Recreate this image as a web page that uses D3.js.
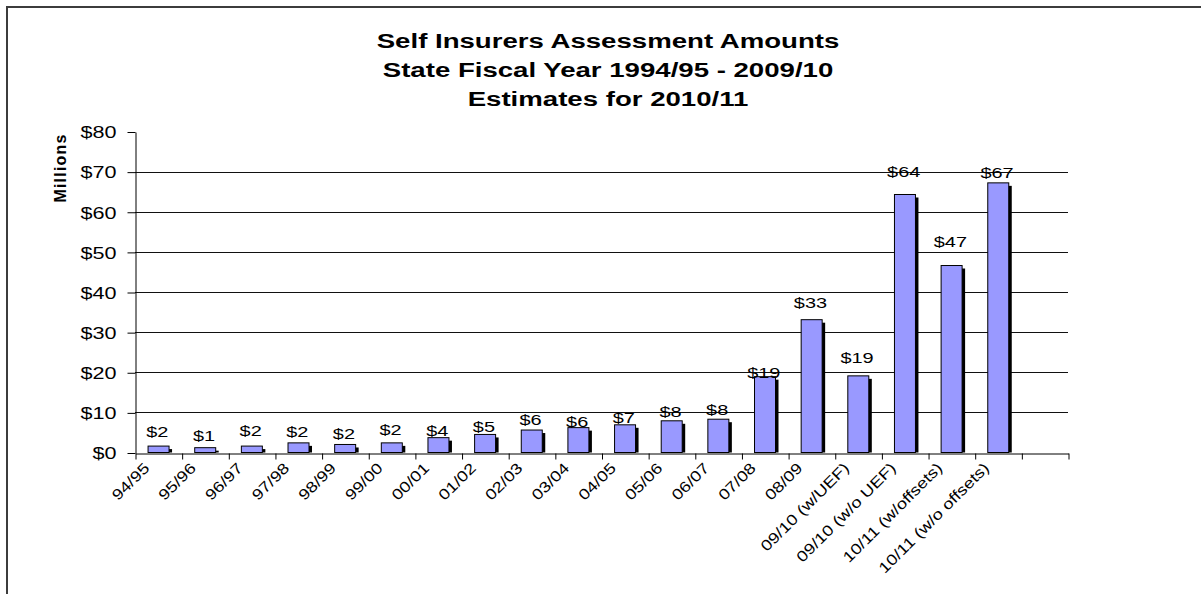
<!DOCTYPE html>
<html lang="en">
<head>
    <meta charset="UTF-8">
    <title>Self Insurers Assessment Amounts</title>
    <script src="https://d3js.org/d3.v7.min.js"></script>
    <style>
        body {
            margin: 0;
            background: #fff;
        }
        svg text {
            font-family: "Liberation Sans", Arial, sans-serif;
            fill: #000;
        }
        .title {
            font-size: 20px;
            font-weight: bold;
        }
        .axis-label {
            font-size: 16px;
            font-weight: bold;
        }
        .tick-label {
            font-size: 16px;
        }
        .value-label {
            font-size: 15px;
        }
        .cat-label {
            font-size: 15px;
        }
    </style>
</head>
<body>
    <div id="chart"></div>

    <script>
        // chart data
        const titleLines = [
            "Self Insurers Assessment Amounts",
            "State Fiscal Year 1994/95 - 2009/10",
            "Estimates for 2010/11"
        ];
        const categories = [
            "94/95", "95/96", "96/97", "97/98", "98/99", "99/00", "00/01",
            "01/02", "02/03", "03/04", "04/05", "05/06", "06/07", "07/08",
            "08/09", "09/10 (w/UEF)", "09/10 (w/o UEF)",
            "10/11 (w/offsets)", "10/11 (w/o offsets)"
        ];
        const amounts = [
            1.6, 1.2, 1.6, 2.4, 2.0, 2.4, 3.7, 4.5, 5.6, 6.2, 6.9, 7.9,
            8.3, 18.9, 33.1, 19.1, 64.3, 46.6, 67.2
        ];
        const valueLabels = [
            "$2", "$1", "$2", "$2", "$2", "$2", "$4", "$5", "$6", "$6", "$7",
            "$8", "$8", "$19", "$33", "$19", "$64", "$47", "$67"
        ];
        const yTicks = [0, 10, 20, 30, 40, 50, 60, 70, 80];

        // label lift above each bar top (px), as placed in the original
        const labelGap = [9, 7, 10, 6, 5, 8, 2, 2, 5, 1, 2, 4, 4, -1, 12, 13, 17, 19, 5];

        const width = 1201, height = 594;
        const plotLeft = 135, plotRight = 1068, plotBottom = 452.5, plotTop = 131.5;

        const svg = d3.select("#chart")
            .append("svg")
            .attr("width", width)
            .attr("height", height);

        // outer frame (runs off the right and bottom edges)
        svg.append("rect")
            .attr("x", 7)
            .attr("y", 7)
            .attr("width", 1400)
            .attr("height", 800)
            .attr("fill", "none")
            .attr("stroke", "#3c3c3c")
            .attr("stroke-width", 2);

        // title
        svg.selectAll(".title")
            .data(titleLines)
            .enter()
            .append("text")
            .attr("class", "title")
            .attr("text-anchor", "middle")
            .attr("transform", (d, i) => `translate(608, ${48 + i * 29}) scale(1.38, 1)`)
            .text(d => d);

        // scales: one spare empty slot after the last category
        const slots = d3.range(categories.length + 1);
        const x = d3.scaleBand()
            .domain(slots)
            .range([plotLeft, plotRight]);
        const xEdge = d3.scaleLinear()
            .domain([0, slots.length])
            .range([plotLeft, plotRight]);
        const y = d3.scaleLinear()
            .domain([0, 80])
            .range([plotBottom, plotTop]);

        // gridlines
        svg.append("g")
            .attr("class", "grid")
            .selectAll("line")
            .data(yTicks.filter(t => t > 0 && t < 80))
            .enter()
            .append("line")
            .attr("x1", plotLeft)
            .attr("x2", plotRight)
            .attr("y1", d => Math.round(y(d)) + 0.5)
            .attr("y2", d => Math.round(y(d)) + 0.5)
            .attr("stroke", "#111")
            .attr("stroke-width", 1);

        // y axis
        const yAxis = svg.append("g")
            .attr("transform", `translate(${plotLeft + 0.5}, 0.5)`)
            .call(d3.axisLeft(y)
                .tickValues(yTicks)
                .tickSize(8)
                .tickSizeOuter(0)
                .tickFormat(d => "$" + d));
        yAxis.attr("font-family", null).attr("font-size", null);
        yAxis.select(".domain").attr("stroke", "#000");
        yAxis.selectAll(".tick line").attr("stroke", "#000");
        yAxis.selectAll(".tick text")
            .attr("class", "tick-label")
            .attr("x", null)
            .attr("dy", "0.36em")
            .attr("fill", "#000")
            .attr("transform", "translate(-19, 0) scale(1.35, 1)");

        // y axis title
        svg.append("text")
            .attr("class", "axis-label")
            .attr("text-anchor", "middle")
            .attr("transform", "translate(66, 168) rotate(-90)")
            .style("letter-spacing", "1.2px")
            .text("Millions");

        // bars: black drop shadow, then the bar itself
        const barW = x.bandwidth() * 0.45;
        const barOff = x.bandwidth() * 0.28;

        svg.append("g")
            .selectAll("rect")
            .data(amounts)
            .enter()
            .append("rect")
            .attr("x", (d, i) => x(i) + barOff + 3)
            .attr("y", d => y(d) + 3)
            .attr("width", barW)
            .attr("height", d => Math.max(0, y(0) - y(d) - 3))
            .attr("fill", "#000");

        svg.append("g")
            .selectAll("rect")
            .data(amounts)
            .enter()
            .append("rect")
            .attr("x", (d, i) => x(i) + barOff)
            .attr("y", d => y(d))
            .attr("width", barW)
            .attr("height", d => y(0) - y(d))
            .attr("fill", "#9999ff")
            .attr("stroke", "#000")
            .attr("stroke-width", 1);

        // x axis with ticks at category boundaries
        const xAxis = svg.append("g")
            .attr("transform", `translate(0.5, ${Math.round(plotBottom) + 0.5})`)
            .call(d3.axisBottom(xEdge)
                .tickValues(d3.range(slots.length + 1))
                .tickSize(6)
                .tickSizeOuter(0)
                .tickFormat(""));
        xAxis.select(".domain").attr("stroke", "#000");
        xAxis.selectAll(".tick line").attr("stroke", "#000");

        // category labels
        svg.append("g")
            .selectAll("text")
            .data(categories)
            .enter()
            .append("text")
            .attr("class", "cat-label")
            .attr("text-anchor", "end")
            .attr("transform", (d, i) =>
                `translate(${x(i) + x.bandwidth() / 2 - 8}, 469) rotate(-45) scale(1.22, 1)`)
            .text(d => d);

        // value labels
        svg.append("g")
            .selectAll("text")
            .data(amounts)
            .enter()
            .append("text")
            .attr("class", "value-label")
            .attr("text-anchor", "middle")
            .attr("transform", (d, i) =>
                `translate(${x(i) + x.bandwidth() / 2 - 1}, ${y(d) - labelGap[i]}) scale(1.33, 1)`)
            .text((d, i) => valueLabels[i]);
    </script>
</body>
</html>
